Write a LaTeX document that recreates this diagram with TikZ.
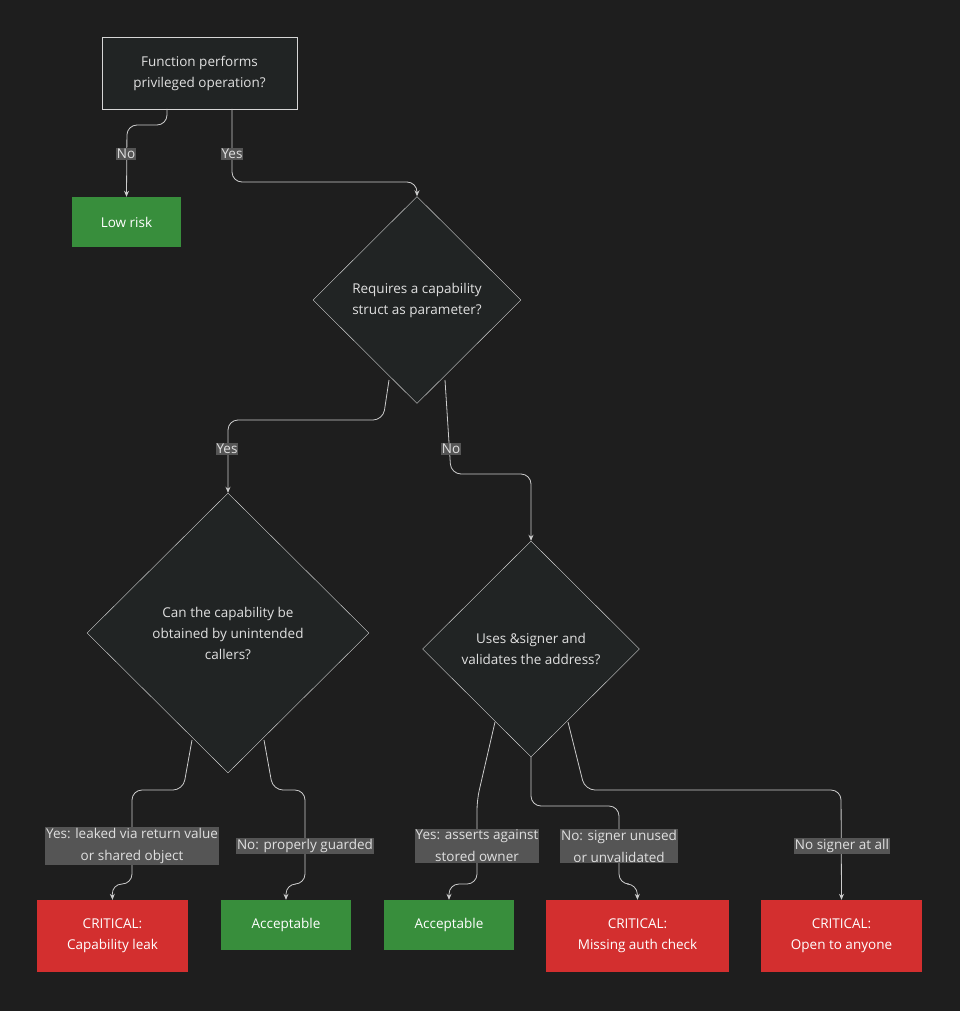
\documentclass[tikz,border=0pt]{standalone}
\usepackage{fontspec}
\setmainfont{Open Sans}
\usetikzlibrary{shapes.geometric,arrows.meta}
\definecolor{bg}{HTML}{1E1E1E}
\definecolor{nfill}{HTML}{212424}
\definecolor{edge}{HTML}{CCCCCC}
\definecolor{gr}{HTML}{388E3C}
\definecolor{rd}{HTML}{D32F2F}
\definecolor{lbl}{HTML}{555555}
\begin{document}
\begin{tikzpicture}[x=1pt,y=-1pt,
  every node/.style={font=\fontsize{13.5}{21}\selectfont, text=white!88!black, align=center, inner sep=0pt},
  box/.style={draw=edge!80, fill=nfill, minimum width=195, minimum height=72},
  dia/.style={diamond, draw=edge!80, fill=nfill, aspect=1},
  grn/.style={fill=gr, minimum height=50, text=white},
  red/.style={fill=rd, minimum height=72, text=white},
  lab/.style={fill=lbl, inner xsep=1pt, inner ysep=1pt, font=\fontsize{13.5}{22}\selectfont},
  ln/.style={draw=edge, line width=0.8pt, rounded corners=10, -{Stealth[length=6pt,width=5pt]}}]
\fill[bg] (0,0) rectangle (960,1011);
\node[box] (q1) at (199.5,73) {Function performs\\privileged operation?};
\node[grn, minimum width=109] (low) at (126.5,222) {Low risk};
\node[dia, minimum width=208, minimum height=207] (d1) at (417,300) {Requires a capability\\struct as parameter?};
\node[dia, minimum width=282, minimum height=280] (d2) at (228,633) {Can the capability be\\obtained by unintended\\callers?};
\node[dia, minimum width=217, minimum height=216] (d3) at (531,649) {Uses \&signer and\\validates the address?};
\node[red, minimum width=151] (c1) at (112.5,936) {CRITICAL:\\Capability leak};
\node[grn, minimum width=130] (a1) at (286,925) {Acceptable};
\node[grn, minimum width=130] (a2) at (449,925) {Acceptable};
\node[red, minimum width=183] (c2) at (637.5,936) {CRITICAL:\\Missing auth check};
\node[red, minimum width=161] (c3) at (841.5,936) {CRITICAL:\\Open to anyone};
\coordinate (q1a) at (167,109); \coordinate (q1b) at (232,109);
\draw[ln] (q1a) -- (167,125) -- (127,125) -- (low.north);
\draw[ln] (q1b) -- (232,182) -- (417,182) -- (d1.north);
\node[lab] at (126,154) {No};
\node[lab] at (232,154) {Yes};
\coordinate (d1a) at (389,380); \coordinate (d1b) at (445,380);
\draw[ln] (d1a) -- (383,420) -- (228,420) -- (d2.north);
\draw[ln] (d1b) -- (451,474) -- (531,474) -- (d3.north);
\node[lab] at (227,449) {Yes};
\node[lab] at (451,449) {No};
\coordinate (d2a) at (192,740); \coordinate (d2b) at (264,740);
\draw[ln] (d2a) -- (183,790) -- (132,790) -- (132,884) -- (112,884) -- (c1.north);
\draw[ln] (d2b) -- (273,790) -- (305,790) -- (305,884) -- (286,884) -- (a1.north);
\node[lab] at (132,846) {Yes: leaked via return value\\or shared object};
\node[lab] at (305,846) {No: properly guarded};
\coordinate (d3a) at (495,722); \coordinate (d3c) at (568,722);
\draw[ln] (d3a) -- (477,800) -- (477,884) -- (449,884) -- (a2.north);
\draw[ln] (d3.south) -- (531,806) -- (619,806) -- (619,884) -- (637,884) -- (c2.north);
\draw[ln] (d3c) -- (585,790) -- (841,790) -- (c3.north);
\node[lab] at (477,846) {Yes: asserts against\\stored owner};
\node[lab] at (619,846) {No: signer unused\\or unvalidated};
\node[lab] at (842,846) {No signer at all};
\end{tikzpicture}
\end{document}
